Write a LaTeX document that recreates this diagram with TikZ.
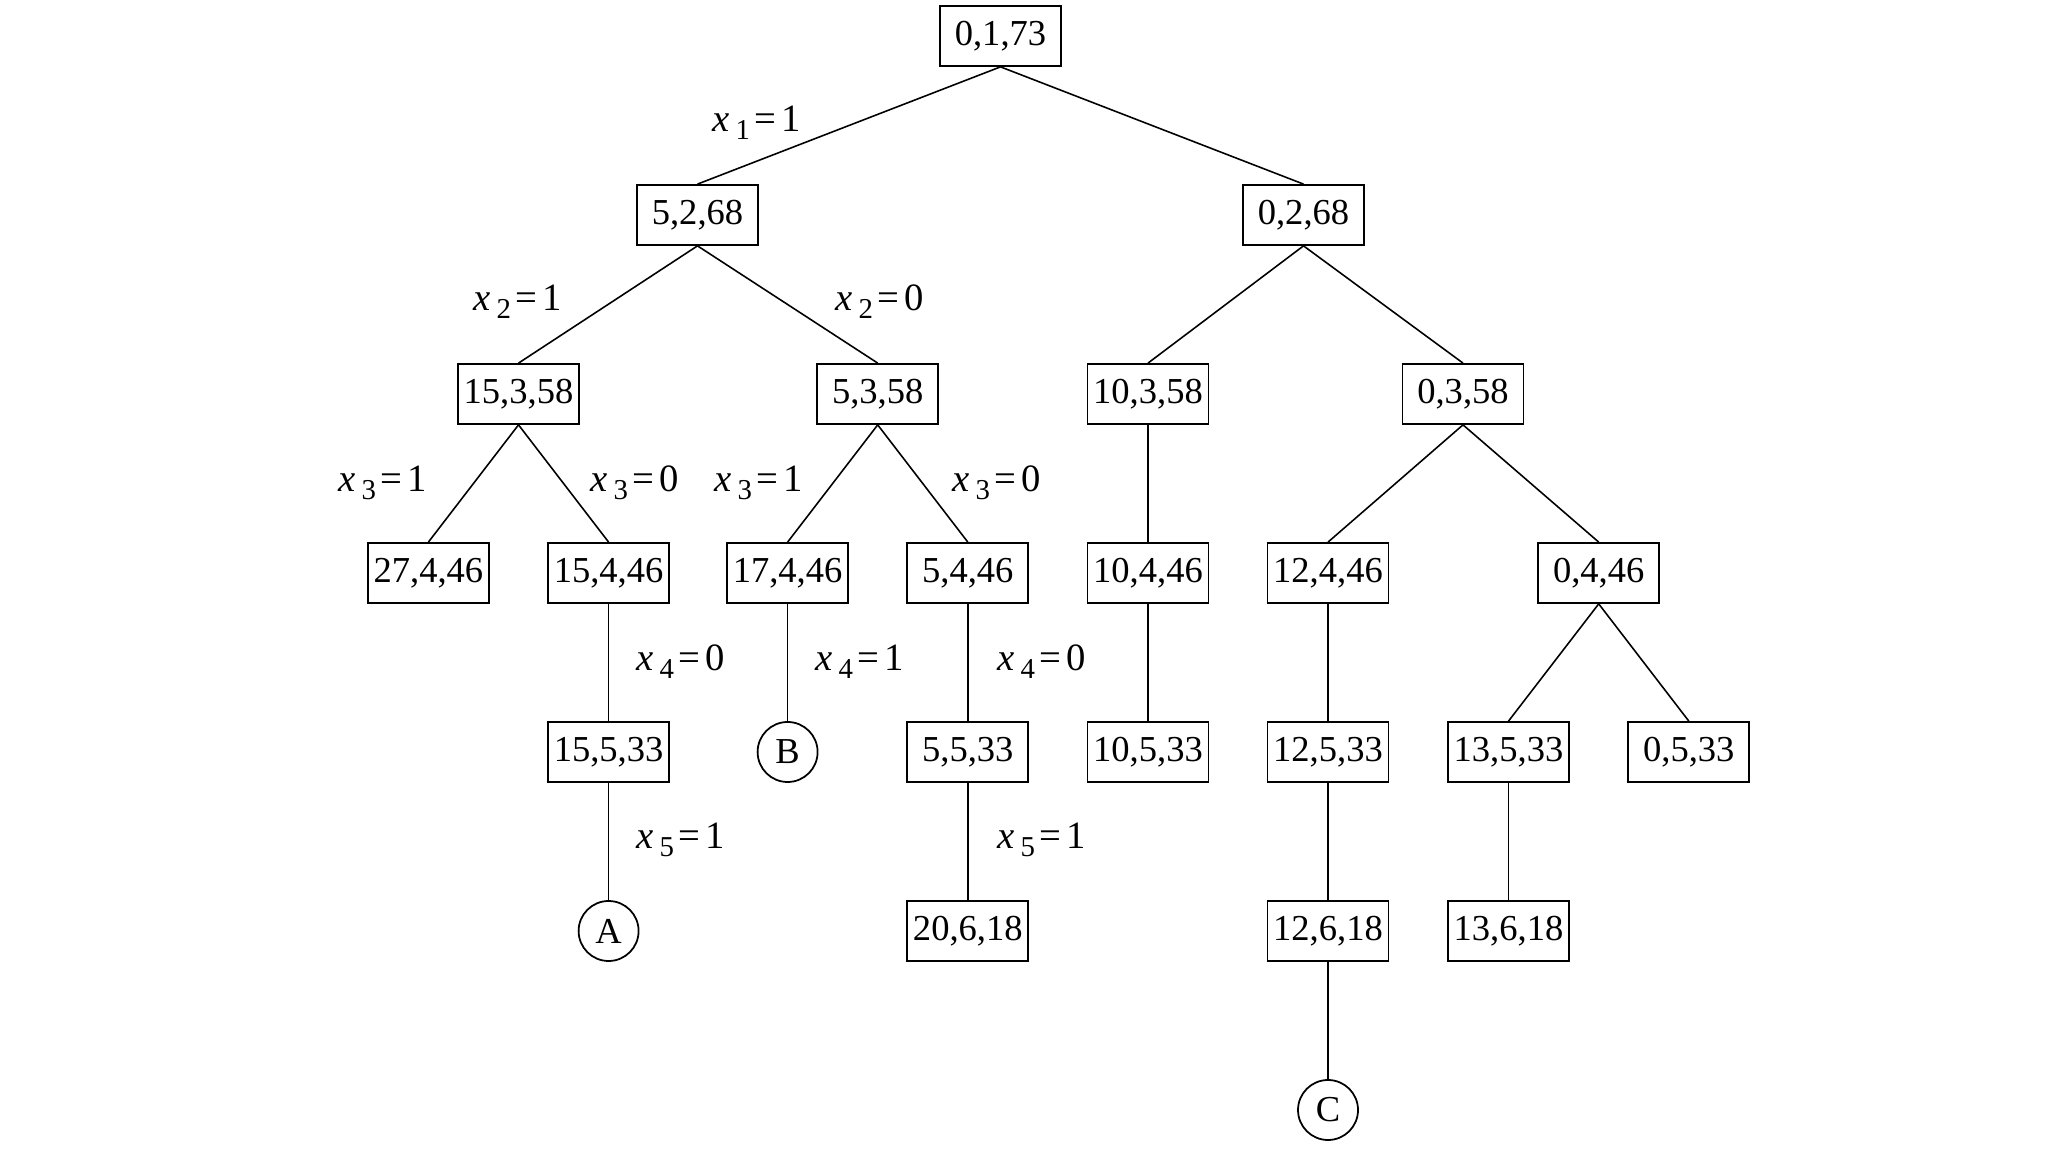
\documentclass[tikz,border=0pt]{standalone}
\usepackage{fontspec}
\setmainfont{Liberation Serif}
\usetikzlibrary{positioning}
\newcommand{\xeq}[2]{\textit{x}\kern1.6pt\raisebox{-2.2pt}{\fontsize{8.2}{8}\selectfont#1}\kern1.2pt=\kern1.6pt#2}

\begin{document}
\begin{tikzpicture}[
  x=0.1mm, y=-0.1mm,
  font=\fontsize{10.4}{12}\selectfont,
  state/.style={draw, line width=0.5pt, minimum width=12.1mm, minimum height=6mm, inner sep=0pt},
  leaf/.style={draw, circle, line width=0.5pt, minimum size=6mm, inner sep=0pt},
  lab/.style={inner sep=0pt, font=\fontsize{11}{12}\selectfont},
  branch/.style={line width=0.45pt}
]
\useasboundingbox (0,0) rectangle (2048,1152);

\node[state] (s0173) at (1000.5,36)  {0,1,73};
\node[state] (s5268) at (697.5,215)  {5,2,68};
\node[state] (s0268) at (1303.5,215) {0,2,68};
\node[state] (s15358) at (518.5,394) {15,3,58};
\node[state] (s5358)  at (877.7,394) {5,3,58};
\node[state] (s10358) at (1148,394)  {10,3,58};
\node[state] (s0358)  at (1463,394)  {0,3,58};
\node[state] (s27446) at (428.4,573) {27,4,46};
\node[state] (s15446) at (608.6,573) {15,4,46};
\node[state] (s17446) at (787.6,573) {17,4,46};
\node[state] (s5446)  at (967.8,573) {5,4,46};
\node[state] (s10446) at (1148,573)  {10,4,46};
\node[state] (s12446) at (1328,573)  {12,4,46};
\node[state] (s0446)  at (1598.7,573) {0,4,46};
\node[state] (s15533) at (608.6,752) {15,5,33};
\node[leaf]  (B)      at (787.6,752) {B};
\node[state] (s5533)  at (967.8,752) {5,5,33};
\node[state] (s10533) at (1148,752)  {10,5,33};
\node[state] (s12533) at (1328,752)  {12,5,33};
\node[state] (s13533) at (1508.5,752) {13,5,33};
\node[state] (s0533)  at (1688.8,752) {0,5,33};
\node[leaf]  (A)      at (608.6,931) {A};
\node[state] (s20618) at (967.8,931) {20,6,18};
\node[state] (s12618) at (1328,931)  {12,6,18};
\node[state] (s13618) at (1508.5,931) {13,6,18};
\node[leaf]  (C)      at (1328,1110) {C};

% branching variables
\node[lab] (l1)  at (757,123)  {\xeq{1}{1}};
\node[lab] (l2a) at (518,302)  {\xeq{2}{1}};
\node[lab] (l2b) at (880,302)  {\xeq{2}{0}};
\node[lab] (l3a) at (383,483)  {\xeq{3}{1}};
\node[lab] (l3b) at (635,483)  {\xeq{3}{0}};
\node[lab] (l3c) at (759,483)  {\xeq{3}{1}};
\node[lab] (l3d) at (997,483)  {\xeq{3}{0}};
\node[lab] (l4a) at (681,662)  {\xeq{4}{0}};
\node[lab] (l4b) at (860,662)  {\xeq{4}{1}};
\node[lab] (l4c) at (1042,662) {\xeq{4}{0}};
\node[lab] (l5a) at (681,840)  {\xeq{5}{1}};
\node[lab] (l5b) at (1042,840) {\xeq{5}{1}};

\draw[branch] (s0173.south) -- (s5268.north);
\draw[branch] (s0173.south) -- (s0268.north);
\draw[branch] (s5268.south) -- (s15358.north);
\draw[branch] (s5268.south) -- (s5358.north);
\draw[branch] (s0268.south) -- (s10358.north);
\draw[branch] (s0268.south) -- (s0358.north);
\draw[branch] (s15358.south) -- (s27446.north);
\draw[branch] (s15358.south) -- (s15446.north);
\draw[branch] (s5358.south) -- (s17446.north);
\draw[branch] (s5358.south) -- (s5446.north);
\draw[branch] (s10358.south) -- (s10446.north);
\draw[branch] (s0358.south) -- (s12446.north);
\draw[branch] (s0358.south) -- (s0446.north);
\draw[branch] (s15446.south) -- (s15533.north);
\draw[branch] (s17446.south) -- (B.north);
\draw[branch] (s5446.south) -- (s5533.north);
\draw[branch] (s10446.south) -- (s10533.north);
\draw[branch] (s12446.south) -- (s12533.north);
\draw[branch] (s0446.south) -- (s13533.north);
\draw[branch] (s0446.south) -- (s0533.north);
\draw[branch] (s15533.south) -- (A.north);
\draw[branch] (s5533.south) -- (s20618.north);
\draw[branch] (s12533.south) -- (s12618.north);
\draw[branch] (s13533.south) -- (s13618.north);
\draw[branch] (s12618.south) -- (C.north);
\end{tikzpicture}
\end{document}
